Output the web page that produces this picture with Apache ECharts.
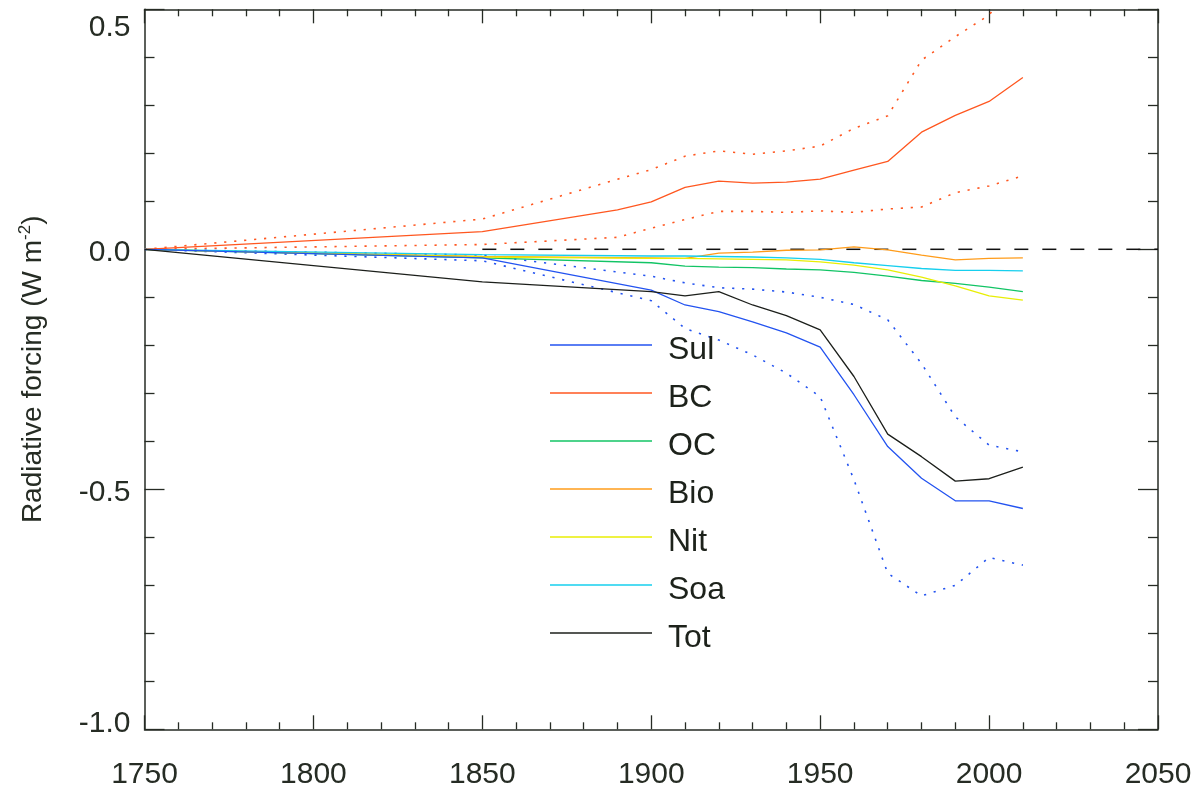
<!DOCTYPE html>
<html>
<head>
<meta charset="utf-8">
<script src="https://cdn.jsdelivr.net/npm/echarts@6/dist/echarts.min.js"></script>
<style>
  html, body { margin: 0; padding: 0; background: #ffffff; }
  #chart { width: 1203px; height: 796px; }
</style>
</head>
<body>
<div id="chart"></div>
<script>
// Aerosol radiative forcing since 1750 (W m-2), by component
const years = [1750, 1850, 1900, 1910, 1920, 1930, 1940, 1950, 1960, 1970, 1980, 1990, 2000, 2010];
const sul = [0, -0.018, -0.085, -0.116, -0.130, -0.151, -0.174, -0.204, -0.303, -0.411, -0.477, -0.524, -0.524, -0.540];
const sulHigh = [0, -0.012, -0.056, -0.070, -0.080, -0.083, -0.089, -0.100, -0.115, -0.147, -0.238, -0.349, -0.408, -0.422];
const sulLow = [0, -0.024, -0.107, -0.165, -0.189, -0.220, -0.258, -0.307, -0.480, -0.675, -0.722, -0.700, -0.642, -0.658];
const oc = [0, -0.018, -0.028, -0.035, -0.037, -0.038, -0.041, -0.043, -0.048, -0.056, -0.065, -0.071, -0.079, -0.088];
const bio = [0, -0.015, -0.018, -0.019, -0.008, -0.006, -0.002, -0.001, 0.005, -0.001, -0.012, -0.022, -0.019, -0.018];
const nit = [0, -0.016, -0.019, -0.019, -0.020, -0.021, -0.022, -0.026, -0.033, -0.043, -0.058, -0.076, -0.097, -0.106];
const soa = [0, -0.011, -0.014, -0.014, -0.015, -0.016, -0.018, -0.021, -0.028, -0.034, -0.040, -0.044, -0.044, -0.045];
const tot = [0, -0.068, -0.088, -0.097, -0.088, -0.116, -0.138, -0.168, -0.265, -0.385, -0.432, -0.483, -0.478, -0.454];

// Black carbon has an extra point at 1890
const bcYears = [1750, 1850, 1890, 1900, 1910, 1920, 1930, 1940, 1950, 1960, 1970, 1980, 1990, 2000, 2010];
const bc = [0, 0.037, 0.082, 0.099, 0.129, 0.142, 0.138, 0.140, 0.146, 0.165, 0.183, 0.244, 0.279, 0.308, 0.358];
const bcHigh = [0, 0.063, 0.146, 0.166, 0.194, 0.205, 0.198, 0.205, 0.215, 0.252, 0.278, 0.394, 0.443, 0.488, 0.580];
const bcLow = [0, 0.010, 0.025, 0.044, 0.062, 0.079, 0.079, 0.077, 0.080, 0.077, 0.084, 0.088, 0.118, 0.132, 0.153];

const zeroLineYears = [1850, 2050];
const xTicks = { min: 1750, max: 2050, step: 50 };
const yTicks = { min: -1.0, max: 0.5, step: 0.5 };

const FONT = 'Liberation Sans, Arial, Helvetica, sans-serif';
const INK = '#262c24';
const AXIS = '#262b24';

function pairs(xs, ys) { return xs.map((x, i) => [x, ys[i]]); }

function solid(name, xs, ys, color) {
  return {
    name, type: 'line', data: pairs(xs, ys), symbol: 'none',
    lineStyle: { color, width: 1.3 }, itemStyle: { color },
    xAxisIndex: 0, yAxisIndex: 0, silent: true, z: 3
  };
}
function dotted(name, xs, ys, color) {
  return {
    name, type: 'line', data: pairs(xs, ys), symbol: 'none',
    lineStyle: { color, width: 1.6, type: [2.2, 7.8] }, itemStyle: { color },
    xAxisIndex: 0, yAxisIndex: 0, silent: true, z: 2
  };
}

const colors = {
  Sul: '#2353f0', BC: '#ff5720', OC: '#12c465', Bio: '#ff9c1a',
  Nit: '#e8ee05', Soa: '#16cfee', Tot: '#1c1f1b'
};

function xAxisDef(pos, labels) {
  return {
    type: 'value', position: pos, gridIndex: 0,
    min: xTicks.min, max: xTicks.max, interval: xTicks.step,
    axisLine: { show: true, onZero: false, lineStyle: { color: AXIS, width: 1.5 } },
    axisTick: { show: true, inside: true, length: 14, lineStyle: { color: AXIS, width: 1.3 } },
    minorTick: { show: true, splitNumber: 5, length: 7, lineStyle: { color: AXIS, width: 1.3 } },
    splitLine: { show: false },
    axisLabel: {
      show: labels, fontSize: 30, fontFamily: FONT, color: INK, margin: 30,
      formatter: function (v) { return String(v); }
    }
  };
}
function yAxisDef(pos, labels) {
  return {
    type: 'value', position: pos, gridIndex: 0,
    min: yTicks.min, max: yTicks.max, interval: yTicks.step,
    axisLine: { show: true, onZero: false, lineStyle: { color: AXIS, width: 1.5 } },
    axisTick: { show: true, inside: true, length: 20, lineStyle: { color: AXIS, width: 1.3 } },
    minorTick: { show: true, splitNumber: 5, length: 10, lineStyle: { color: AXIS, width: 1.3 } },
    splitLine: { show: false },
    axisLabel: {
      show: labels, margin: 14,
      formatter: function (v) {
        const t = v.toFixed(1);
        if (v >= yTicks.max - 1e-9) return '{top|' + t + '}';
        if (v <= yTicks.min + 1e-9) return '{bot|' + t + '}';
        return '{mid|' + t + '}';
      },
      rich: {
        top: { fontSize: 30, fontFamily: FONT, color: INK, padding: [36, 0, 0, 0] },
        mid: { fontSize: 30, fontFamily: FONT, color: INK, padding: [6, 0, 0, 0] },
        bot: { fontSize: 30, fontFamily: FONT, color: INK, padding: [0, 0, 12, 0] }
      }
    }
  };
}

const yLeft = yAxisDef('left', true);
yLeft.name = '{t|Radiative forcing (W m}{s|-2}{t|)}';
yLeft.nameLocation = 'middle';
yLeft.nameRotate = 90;
yLeft.nameGap = 95;
yLeft.nameTextStyle = {
  rich: {
    t: { fontSize: 28, fontFamily: FONT, color: INK },
    s: { fontSize: 17, fontFamily: FONT, color: INK, padding: [0, 0, 16, 0] }
  }
};

const legendNames = ['Sul', 'BC', 'OC', 'Bio', 'Nit', 'Soa', 'Tot'];

const option = {
  animation: false,
  backgroundColor: '#ffffff',
  grid: { left: 144.5, top: 9.3, width: 1013.5, height: 720, containLabel: false },
  xAxis: [xAxisDef('bottom', true), xAxisDef('top', false)],
  yAxis: [yLeft, yAxisDef('right', false)],
  legend: {
    data: legendNames,
    orient: 'vertical',
    left: 550, top: 324,
    padding: 0,
    icon: 'rect',
    itemWidth: 102, itemHeight: 1.5,
    itemGap: 6,
    selectedMode: false,
    formatter: function (name) { return '{n|' + name + '}'; },
    textStyle: {
      padding: [0, 0, 0, 11],
      rich: { n: { fontSize: 32, fontFamily: FONT, color: '#1d221b', lineHeight: 36, padding: [10, 0, 0, 0] } }
    }
  },
  series: [
    {
      name: 'zero', type: 'line', data: pairs(zeroLineYears, [0, 0]), symbol: 'none',
      lineStyle: { color: '#111111', width: 1.5, type: [14, 14] }, silent: true, z: 1
    },
    dotted('BC high', bcYears, bcHigh, colors.BC),
    dotted('BC low', bcYears, bcLow, colors.BC),
    dotted('Sul high', years, sulHigh, colors.Sul),
    dotted('Sul low', years, sulLow, colors.Sul),
    solid('OC', years, oc, colors.OC),
    solid('Bio', years, bio, colors.Bio),
    solid('Nit', years, nit, colors.Nit),
    solid('Soa', years, soa, colors.Soa),
    solid('BC', bcYears, bc, colors.BC),
    solid('Sul', years, sul, colors.Sul),
    solid('Tot', years, tot, colors.Tot)
  ]
};

const chart = echarts.init(document.getElementById('chart'), null, { renderer: 'canvas' });
chart.setOption(option);
</script>
</body>
</html>
